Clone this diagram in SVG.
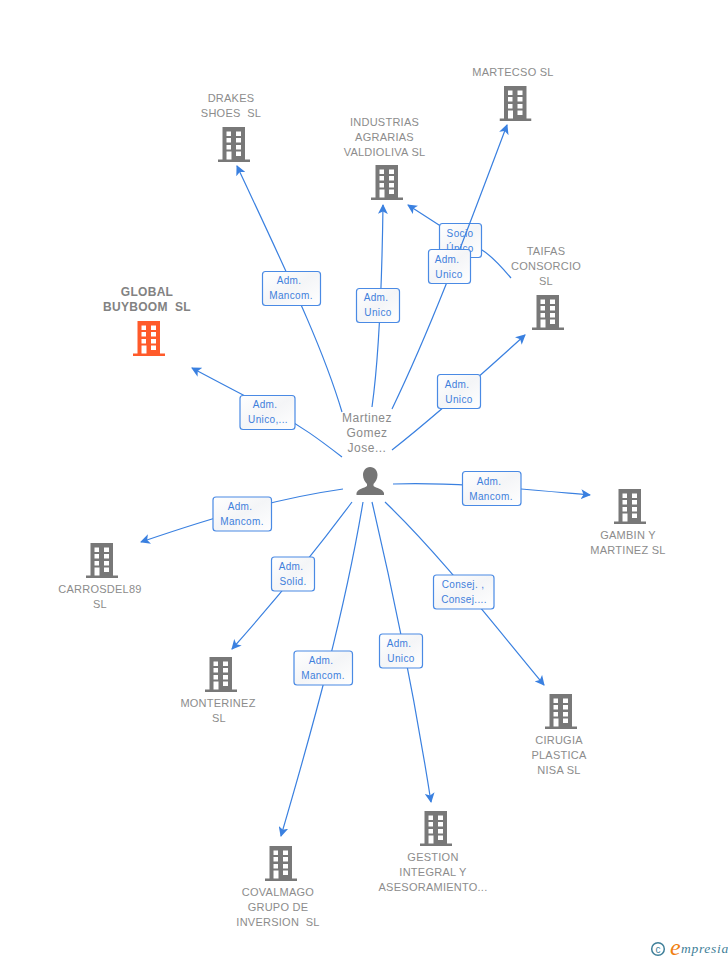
<svg xmlns="http://www.w3.org/2000/svg" width="728" height="960" viewBox="0 0 728 960">
<style>
text{white-space:pre}
.n{font:11px "Liberation Sans",Arial,sans-serif;letter-spacing:.25px;fill:#8c8c8c;text-anchor:middle}
.g{font:bold 12px "Liberation Sans",Arial,sans-serif;letter-spacing:.3px;fill:#828282;text-anchor:middle}
.p{font:12px "Liberation Sans",Arial,sans-serif;letter-spacing:.5px;fill:#8a8a8a;text-anchor:middle}
.l{font:10px "Liberation Sans",Arial,sans-serif;letter-spacing:.35px;fill:#3f7fdc;text-anchor:middle}
.c{fill:none;stroke:#3a80e0;stroke-width:1.2}
.b{fill:url(#lg);stroke:#4a8ae4;stroke-width:1.2}
</style>
<defs>
<linearGradient id="lg" x1="0" y1="0" x2="1" y2="1"><stop offset="0" stop-color="#fff"/><stop offset=".5" stop-color="#f4f5f7"/><stop offset="1" stop-color="#fff"/></linearGradient>
<marker id="a" viewBox="0 0 10 10" refX="9" refY="5" markerWidth="10" markerHeight="10" markerUnits="userSpaceOnUse" orient="auto"><path d="M0 0L10 5L0 10L2.5 5Z" fill="#3a80e0"/></marker>
<symbol id="bd" width="32" height="35" viewBox="0 0 32 35"><path fill-rule="evenodd" d="M4.5 0H27V32.5H32V35H0V32.5H4.5ZM8.5 4.5V9H13V4.500ZM18 4.500V9H23V4.500ZM8.500 11V15.500H13V11ZM18 11V15.500H23V11ZM8.500 18V22.500H13V18ZM18 18V22.500H23V18ZM8.500 24.500V32.500H13.500V24.500ZM18 24.500V29H23V24.500Z"/></symbol>
</defs>
<g id="label-socio"><path class="c" marker-end="url(#a)" d="M511 278C500 265 492 256 482 250C468 242 445 229 439 225L408 205"/><rect class="b" x="439.500" y="223.500" width="42" height="34" rx="3"/><text class="l" x="460" y="237">Socio</text><text class="l" x="460" y="252">Único</text></g>
<g id="connectors">
<path class="c" marker-end="url(#a)" d="M342 412C325 355 300 300 237 166"/>
<path class="c" marker-end="url(#a)" d="M372 407C380 350 382 280 383 205"/>
<path class="c" marker-end="url(#a)" d="M392 409C430 330 460 250 507 125"/>
<path class="c" marker-end="url(#a)" d="M392 450C430 420 470 385 525 335"/>
<path class="c" marker-end="url(#a)" d="M342 457C320 440 300 425 270 409C245 396 220 383 192 368"/>
<path class="c" marker-end="url(#a)" d="M343 489C280 498 220 515 141 542"/>
<path class="c" marker-end="url(#a)" d="M393 484C450 482 510 488 590 495"/>
<path class="c" marker-end="url(#a)" d="M352 502C320 545 280 595 232 649"/>
<path class="c" marker-end="url(#a)" d="M363 502C345 610 315 720 281 836"/>
<path class="c" marker-end="url(#a)" d="M372 502C395 600 415 700 431 802"/>
<path class="c" marker-end="url(#a)" d="M385 502C440 555 490 620 544 685"/>
</g>
<g id="labels">
<g><rect class="b" x="262.500" y="271.500" width="58" height="34" rx="3"/><text class="l" x="289" y="284">Adm.</text><text class="l" x="291" y="299">Mancom.</text></g>
<g><rect class="b" x="356.500" y="288.500" width="43" height="34" rx="3"/><text class="l" x="376" y="301">Adm.</text><text class="l" x="378" y="316">Unico</text></g>
<g><rect class="b" x="428.500" y="249.500" width="42" height="34" rx="3"/><text class="l" x="447" y="263">Adm.</text><text class="l" x="449" y="278">Unico</text></g>
<g><rect class="b" x="437.500" y="374.500" width="43" height="34" rx="3"/><text class="l" x="457" y="388">Adm.</text><text class="l" x="459" y="403">Unico</text></g>
<g><rect class="b" x="240" y="395.500" width="55" height="34" rx="3"/><text class="l" x="265" y="408">Adm.</text><text class="l" x="268" y="423">Unico,...</text></g>
<g><rect class="b" x="213" y="497" width="58.500" height="34" rx="3"/><text class="l" x="240" y="510">Adm.</text><text class="l" x="242" y="525">Mancom.</text></g>
<g><rect class="b" x="462.500" y="471.500" width="58.500" height="34" rx="3"/><text class="l" x="489" y="485">Adm.</text><text class="l" x="491" y="500">Mancom.</text></g>
<g><rect class="b" x="271.500" y="557" width="43" height="34" rx="3"/><text class="l" x="291" y="570">Adm.</text><text class="l" x="293" y="585">Solid.</text></g>
<g><rect class="b" x="294" y="651" width="58.500" height="34" rx="3"/><text class="l" x="321" y="664">Adm.</text><text class="l" x="323" y="679">Mancom.</text></g>
<g><rect class="b" x="379.500" y="634" width="43" height="34" rx="3"/><text class="l" x="399" y="647">Adm.</text><text class="l" x="401" y="662">Unico</text></g>
<g><rect class="b" x="433.500" y="575" width="60.500" height="34" rx="3"/><text class="l" x="463" y="588">Consej. ,</text><text class="l" x="464" y="603">Consej....</text></g>
</g>
<g id="person"><path fill="#757575" d="M370 467C375 467 377.500 471 377.500 475C377.500 479 375.500 482 373.500 484V486C376 488 383 489 384 493V495H356.500V493C357.500 489 364.500 488 367 486V484C365 482 363 479 363 475C363 471 365.500 467 370 467Z"/><text class="p" x="367" y="422">Martinez</text><text class="p" x="367" y="437">Gomez</text><text class="p" x="367" y="452">Jose...</text></g>
<g id="drakes" fill="#787878"><use href="#bd" x="218" y="127"/><text class="n" x="231" y="102">DRAKES</text><text class="n" x="231" y="117">SHOES  SL</text></g>
<g id="industrias" fill="#787878"><use href="#bd" x="371" y="165"/><text class="n" x="384.500" y="126">INDUSTRIAS</text><text class="n" x="384.500" y="141">AGRARIAS</text><text class="n" x="384.500" y="156">VALDIOLIVA SL</text></g>
<g id="martecso" fill="#787878"><use href="#bd" x="499.500" y="86"/><text class="n" x="513" y="76">MARTECSO SL</text></g>
<g id="taifas" fill="#787878"><use href="#bd" x="532" y="295"/><text class="n" x="546" y="255">TAIFAS</text><text class="n" x="546" y="270">CONSORCIO</text><text class="n" x="546" y="285">SL</text></g>
<g id="global" fill="#ff5a2a"><use href="#bd" x="133" y="321"/><text class="g" x="147" y="296">GLOBAL</text><text class="g" x="147" y="311">BUYBOOM  SL</text></g>
<g id="gambin" fill="#787878"><use href="#bd" x="614" y="489"/><text class="n" x="628" y="539">GAMBIN Y</text><text class="n" x="628" y="554">MARTINEZ SL</text></g>
<g id="carrosdel" fill="#787878"><use href="#bd" x="86" y="543"/><text class="n" x="100" y="593">CARROSDEL89</text><text class="n" x="100" y="608">SL</text></g>
<g id="monterinez" fill="#787878"><use href="#bd" x="205" y="657"/><text class="n" x="218" y="707">MONTERINEZ</text><text class="n" x="219" y="722">SL</text></g>
<g id="covalmago" fill="#787878"><use href="#bd" x="265" y="846"/><text class="n" x="278" y="896">COVALMAGO</text><text class="n" x="278" y="911">GRUPO DE</text><text class="n" x="278" y="926">INVERSION  SL</text></g>
<g id="gestion" fill="#787878"><use href="#bd" x="420" y="811"/><text class="n" x="433" y="861">GESTION</text><text class="n" x="433" y="876">INTEGRAL Y</text><text class="n" x="433" y="891">ASESORAMIENTO...</text></g>
<g id="cirugia" fill="#787878"><use href="#bd" x="545" y="694"/><text class="n" x="559" y="744">CIRUGIA</text><text class="n" x="559" y="759">PLASTICA</text><text class="n" x="559" y="774">NISA SL</text></g>
<g id="logo"><circle cx="658" cy="949" r="6.300" fill="none" stroke="#3f7f99" stroke-width="1.500"/><text x="658" y="952.500" font-family="Liberation Sans,sans-serif" font-size="10" fill="#3f7f99" text-anchor="middle">c</text><text x="670" y="955" font-family="Liberation Serif,serif" font-style="italic" font-size="24" fill="#f08010">e</text><text x="681" y="953" font-family="Liberation Serif,serif" font-style="italic" font-size="13.500" letter-spacing=".7" fill="#3f7f99">mpresia</text></g>
</svg>
